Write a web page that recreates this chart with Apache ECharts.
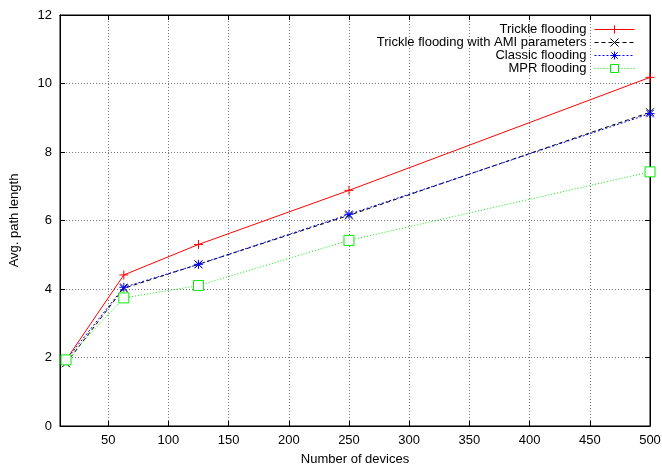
<!DOCTYPE html>
<html><head><meta charset="utf-8">
<script src="https://cdn.jsdelivr.net/npm/echarts@6/dist/echarts.min.js"></script>
<style>html,body{margin:0;padding:0;background:#fff}#c{width:662px;height:466px}</style>
</head><body><div id="c"></div>
<script>
const devices = [15, 63, 125, 250, 500];
const trickle = [1.93, 4.41, 5.30, 6.88, 10.18];
const trickleAMI = [1.83, 4.02, 4.72, 6.15, 9.16];
const classic = [1.93, 4.05, 4.72, 6.18, 9.12];
const mpr = [1.93, 3.74, 4.10, 5.42, 7.42];
const xTicks = [50, 100, 150, 200, 250, 300, 350, 400, 450, 500];
const seriesNames = ['Trickle flooding', 'Trickle flooding with AMI parameters', 'Classic flooding', 'MPR flooding'];

const FONT = 'Liberation Sans';
const FS = 13;
const pair = (ys) => devices.map((x, i) => [x, ys[i]]);
const PLUS = 'path://M0,-1 L0,1 M-1,0 L1,0';
const CROSS = 'path://M-1,-1 L1,1 M-1,1 L1,-1';
const STAR = 'path://M0,-1 L0,1 M-1,0 L1,0 M-0.8,-0.8 L0.8,0.8 M-0.8,0.8 L0.8,-0.8';
const SQUARE = 'path://M-1,-1 L1,-1 L1,1 L-1,1 Z';

function mk(name, ys, color, type, symbol, size, fill) {
  return {
    name, type: 'line', data: pair(ys), symbol, symbolSize: size,
    xAxisIndex: 0, yAxisIndex: 0,
    lineStyle: { color, width: 1, type },
    itemStyle: { color: fill || color, borderColor: color, borderWidth: 1 },
    emphasis: { disabled: true }, animation: false
  };
}

const tickCommon = { show: true, inside: true, length: 5, lineStyle: { color: '#000' } };
const gridLine = { show: true, lineStyle: { color: '#777', type: [1, 2], width: 1 } };
const chart = echarts.init(document.getElementById('c'));
chart.setOption({
  animation: false,
  textStyle: { fontFamily: FONT },
  grid: { left: 60, right: 12, top: 15, bottom: 40, containLabel: false, outerBoundsMode: 'none',
    show: true, borderColor: '#000', borderWidth: 1 },
  legend: {
    orient: 'vertical', right: 27, top: 23, align: 'right', padding: 0,
    itemWidth: 40, itemHeight: 10, itemGap: 0,
    lineStyle: { width: 1 },
    itemStyle: { borderWidth: 1 },
    textStyle: { fontFamily: FONT, fontSize: FS, lineHeight: 13, color: '#000', padding: [0, 3, 0, 0] },
    data: seriesNames
  },
  xAxis: [{
    type: 'value', min: 10, max: 500, position: 'bottom',
    name: 'Number of devices', nameLocation: 'middle', nameGap: 27,
    nameTextStyle: { fontFamily: FONT, fontSize: FS, color: '#000' },
    axisLine: { show: true, lineStyle: { color: '#000', width: 1 } },
    axisTick: Object.assign({ customValues: xTicks }, tickCommon),
    axisLabel: { fontFamily: FONT, fontSize: FS, color: '#000', margin: 8, customValues: xTicks },
    splitLine: Object.assign({ customValues: xTicks }, gridLine)
  }, {
    type: 'value', min: 10, max: 500, position: 'top',
    axisLine: { show: true, onZero: false, lineStyle: { color: '#000', width: 1 } },
    axisTick: Object.assign({ customValues: xTicks }, tickCommon), axisLabel: { show: false }, splitLine: { show: false }
  }],
  yAxis: [{
    type: 'value', min: 0, max: 12, interval: 2, position: 'left',
    name: 'Avg. path length', nameLocation: 'middle', nameGap: 39,
    nameTextStyle: { fontFamily: FONT, fontSize: FS, color: '#000' },
    axisLine: { show: true, lineStyle: { color: '#000', width: 1 } },
    axisTick: tickCommon,
    axisLabel: { fontFamily: FONT, fontSize: FS, color: '#000', margin: 8 },
    splitLine: gridLine
  }, {
    type: 'value', min: 0, max: 12, interval: 2, position: 'right',
    axisLine: { show: true, onZero: false, lineStyle: { color: '#000', width: 1 } },
    axisTick: tickCommon, axisLabel: { show: false }, splitLine: { show: false }
  }],
  series: [
    mk(seriesNames[0], trickle, '#ff0000', 'solid', PLUS, 9),
    mk(seriesNames[1], trickleAMI, '#000000', [4, 3], CROSS, 8),
    mk(seriesNames[2], classic, '#0000ff', [2, 2], STAR, 9),
    mk(seriesNames[3], mpr, '#00ee00', [1, 2], SQUARE, 10, '#ffffff'),
    { type: 'line', data: [], xAxisIndex: 1, yAxisIndex: 1, silent: true }
  ]
});
</script></body></html>
